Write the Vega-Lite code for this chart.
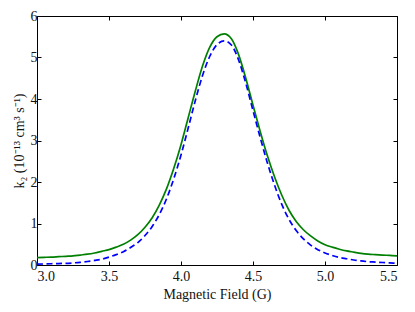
{
  "$schema": "https://vega.github.io/schema/vega-lite/v6.json",
  "autosize": "none",
  "width": 360,
  "height": 249,
  "padding": {"left": 37, "top": 16, "right": 18, "bottom": 47},
  "background": "white",
  "config": {
    "view": {"stroke": "black", "strokeWidth": 1},
    "font": "Liberation Serif",
    "axis": {
      "labelFont": "Liberation Serif",
      "titleFont": "Liberation Serif",
      "labelFontSize": 14,
      "titleFontSize": 14,
      "titleFontWeight": "normal",
      "labelColor": "#111111",
      "titleColor": "#111111",
      "domain": false,
      "grid": false,
      "tickColor": "black",
      "tickSize": -4,
      "tickWidth": 1
    }
  },
  "datasets": {
    "curves": [
      {"field": 3.00, "k2": 0.18, "series": "green"},
      {"field": 3.05, "k2": 0.185, "series": "green"},
      {"field": 3.10, "k2": 0.19, "series": "green"},
      {"field": 3.15, "k2": 0.20, "series": "green"},
      {"field": 3.20, "k2": 0.21, "series": "green"},
      {"field": 3.25, "k2": 0.22, "series": "green"},
      {"field": 3.30, "k2": 0.24, "series": "green"},
      {"field": 3.35, "k2": 0.26, "series": "green"},
      {"field": 3.40, "k2": 0.29, "series": "green"},
      {"field": 3.45, "k2": 0.33, "series": "green"},
      {"field": 3.50, "k2": 0.37, "series": "green"},
      {"field": 3.55, "k2": 0.43, "series": "green"},
      {"field": 3.60, "k2": 0.50, "series": "green"},
      {"field": 3.65, "k2": 0.60, "series": "green"},
      {"field": 3.70, "k2": 0.73, "series": "green"},
      {"field": 3.75, "k2": 0.91, "series": "green"},
      {"field": 3.80, "k2": 1.14, "series": "green"},
      {"field": 3.85, "k2": 1.45, "series": "green"},
      {"field": 3.90, "k2": 1.84, "series": "green"},
      {"field": 3.95, "k2": 2.33, "series": "green"},
      {"field": 4.00, "k2": 2.90, "series": "green"},
      {"field": 4.05, "k2": 3.55, "series": "green"},
      {"field": 4.10, "k2": 4.20, "series": "green"},
      {"field": 4.15, "k2": 4.80, "series": "green"},
      {"field": 4.20, "k2": 5.25, "series": "green"},
      {"field": 4.25, "k2": 5.50, "series": "green"},
      {"field": 4.30, "k2": 5.57, "series": "green"},
      {"field": 4.35, "k2": 5.45, "series": "green"},
      {"field": 4.40, "k2": 5.07, "series": "green"},
      {"field": 4.45, "k2": 4.50, "series": "green"},
      {"field": 4.50, "k2": 3.85, "series": "green"},
      {"field": 4.55, "k2": 3.22, "series": "green"},
      {"field": 4.60, "k2": 2.63, "series": "green"},
      {"field": 4.65, "k2": 2.12, "series": "green"},
      {"field": 4.70, "k2": 1.68, "series": "green"},
      {"field": 4.75, "k2": 1.32, "series": "green"},
      {"field": 4.80, "k2": 1.05, "series": "green"},
      {"field": 4.85, "k2": 0.85, "series": "green"},
      {"field": 4.90, "k2": 0.70, "series": "green"},
      {"field": 4.95, "k2": 0.58, "series": "green"},
      {"field": 5.00, "k2": 0.49, "series": "green"},
      {"field": 5.05, "k2": 0.43, "series": "green"},
      {"field": 5.10, "k2": 0.38, "series": "green"},
      {"field": 5.15, "k2": 0.34, "series": "green"},
      {"field": 5.20, "k2": 0.31, "series": "green"},
      {"field": 5.25, "k2": 0.28, "series": "green"},
      {"field": 5.30, "k2": 0.26, "series": "green"},
      {"field": 5.35, "k2": 0.25, "series": "green"},
      {"field": 5.40, "k2": 0.24, "series": "green"},
      {"field": 5.45, "k2": 0.23, "series": "green"},
      {"field": 5.50, "k2": 0.22, "series": "green"},
      {"field": 3.00, "k2": 0.02, "series": "blue"},
      {"field": 3.05, "k2": 0.025, "series": "blue"},
      {"field": 3.10, "k2": 0.03, "series": "blue"},
      {"field": 3.15, "k2": 0.035, "series": "blue"},
      {"field": 3.20, "k2": 0.04, "series": "blue"},
      {"field": 3.25, "k2": 0.05, "series": "blue"},
      {"field": 3.30, "k2": 0.065, "series": "blue"},
      {"field": 3.35, "k2": 0.085, "series": "blue"},
      {"field": 3.40, "k2": 0.11, "series": "blue"},
      {"field": 3.45, "k2": 0.14, "series": "blue"},
      {"field": 3.50, "k2": 0.19, "series": "blue"},
      {"field": 3.55, "k2": 0.25, "series": "blue"},
      {"field": 3.60, "k2": 0.32, "series": "blue"},
      {"field": 3.65, "k2": 0.42, "series": "blue"},
      {"field": 3.70, "k2": 0.54, "series": "blue"},
      {"field": 3.75, "k2": 0.71, "series": "blue"},
      {"field": 3.80, "k2": 0.93, "series": "blue"},
      {"field": 3.85, "k2": 1.22, "series": "blue"},
      {"field": 3.90, "k2": 1.60, "series": "blue"},
      {"field": 3.95, "k2": 2.08, "series": "blue"},
      {"field": 4.00, "k2": 2.65, "series": "blue"},
      {"field": 4.05, "k2": 3.30, "series": "blue"},
      {"field": 4.10, "k2": 3.97, "series": "blue"},
      {"field": 4.15, "k2": 4.57, "series": "blue"},
      {"field": 4.20, "k2": 5.03, "series": "blue"},
      {"field": 4.25, "k2": 5.31, "series": "blue"},
      {"field": 4.30, "k2": 5.40, "series": "blue"},
      {"field": 4.35, "k2": 5.30, "series": "blue"},
      {"field": 4.40, "k2": 4.94, "series": "blue"},
      {"field": 4.45, "k2": 4.38, "series": "blue"},
      {"field": 4.50, "k2": 3.72, "series": "blue"},
      {"field": 4.55, "k2": 3.07, "series": "blue"},
      {"field": 4.60, "k2": 2.46, "series": "blue"},
      {"field": 4.65, "k2": 1.92, "series": "blue"},
      {"field": 4.70, "k2": 1.46, "series": "blue"},
      {"field": 4.75, "k2": 1.10, "series": "blue"},
      {"field": 4.80, "k2": 0.83, "series": "blue"},
      {"field": 4.85, "k2": 0.63, "series": "blue"},
      {"field": 4.90, "k2": 0.48, "series": "blue"},
      {"field": 4.95, "k2": 0.37, "series": "blue"},
      {"field": 5.00, "k2": 0.29, "series": "blue"},
      {"field": 5.05, "k2": 0.23, "series": "blue"},
      {"field": 5.10, "k2": 0.18, "series": "blue"},
      {"field": 5.15, "k2": 0.15, "series": "blue"},
      {"field": 5.20, "k2": 0.12, "series": "blue"},
      {"field": 5.25, "k2": 0.10, "series": "blue"},
      {"field": 5.30, "k2": 0.08, "series": "blue"},
      {"field": 5.35, "k2": 0.07, "series": "blue"},
      {"field": 5.40, "k2": 0.06, "series": "blue"},
      {"field": 5.45, "k2": 0.05, "series": "blue"},
      {"field": 5.50, "k2": 0.04, "series": "blue"}
    ]
  },
  "data": {"name": "curves"},
  "encoding": {
    "x": {
      "field": "field",
      "type": "quantitative",
      "scale": {"domain": [3.0, 5.5], "nice": false, "zero": false}
    },
    "y": {
      "field": "k2",
      "type": "quantitative",
      "scale": {"domain": [0, 6], "nice": false}
    }
  },
  "layer": [
    {
      "transform": [{"filter": "datum.series === 'green'"}],
      "mark": {"type": "line", "color": "#008000", "strokeWidth": 1.7, "interpolate": "monotone", "clip": true},
      "encoding": {
        "x": {
          "field": "field",
          "type": "quantitative",
          "axis": {"orient": "bottom", "values": [3.0, 3.5, 4.0, 4.5, 5.0, 5.5], "format": ".1f", "title": "Magnetic Field (G)", "labelPadding": 8, "titlePadding": 4}
        },
        "y": {
          "field": "k2",
          "type": "quantitative",
          "axis": {"orient": "left", "values": [0, 1, 2, 3, 4, 5, 6], "format": "d", "title": "k₂ (10⁻¹³ cm³ s⁻¹)", "labelPadding": 4, "titlePadding": 4}
        }
      }
    },
    {
      "transform": [{"filter": "datum.series === 'blue'"}],
      "mark": {"type": "line", "color": "#0000ff", "strokeWidth": 1.7, "strokeDash": [6, 3.5], "interpolate": "monotone", "clip": true},
      "encoding": {
        "x": {
          "field": "field",
          "type": "quantitative",
          "axis": {"orient": "top", "values": [3.0, 3.5, 4.0, 4.5, 5.0, 5.5], "labels": false, "title": null}
        },
        "y": {
          "field": "k2",
          "type": "quantitative",
          "axis": {"orient": "right", "values": [0, 1, 2, 3, 4, 5, 6], "labels": false, "title": null}
        }
      }
    }
  ],
  "resolve": {"axis": {"x": "independent", "y": "independent"}}
}
